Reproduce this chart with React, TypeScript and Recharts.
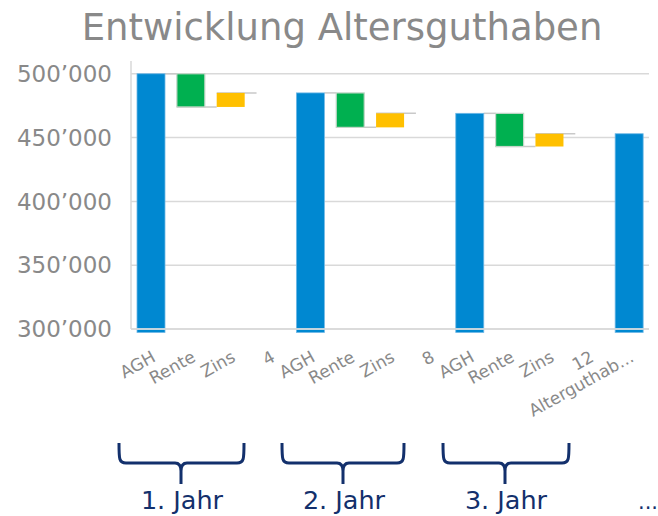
import { BarChart, Bar, XAxis, YAxis, CartesianGrid } from "recharts";

const categories = [
  "AGH", "Rente", "Zins", "4",
  "AGH", "Rente", "Zins", "8",
  "AGH", "Rente", "Zins", "12",
  "Alterguthab...",
];
const kinds = [
  "agh", "rente", "zins", "none",
  "agh", "rente", "zins", "none",
  "agh", "rente", "zins", "none",
  "total",
];
const startBalance = 500000;
const renteChanges = [-26000, -27000, -26000];
const zinsChanges = [11000, 11000, 10000];
const finalBalance = 453000;
const yTicks = [300000, 350000, 400000, 450000, 500000];
const yearLabels = ["1. Jahr", "2. Jahr", "3. Jahr"];

const AXIS_MIN = 300000;
const FONT = '"DejaVu Sans", Verdana, sans-serif';
const GRAY_TEXT = "#898989";
const GRID = "#d9d9d9";
const NAVY = "#13306c";
const COLORS: Record<string, string> = {
  agh: "#0088d1",
  total: "#0088d1",
  rente: "#00b050",
  zins: "#ffc000",
};

function buildRows() {
  let bal = startBalance;
  let year = 0;
  return categories.map((name, i) => {
    const kind = kinds[i];
    let range: [number, number] | null = null;
    if (kind === "agh") range = [AXIS_MIN, bal];
    else if (kind === "rente") {
      const next = bal + renteChanges[year];
      range = [next, bal];
      bal = next;
    } else if (kind === "zins") {
      const next = bal + zinsChanges[year];
      range = [bal, next];
      bal = next;
      year++;
    } else if (kind === "total") range = [AXIS_MIN, finalBalance];
    return { name, kind, range };
  });
}

const rows = buildRows();

const fmt = (v: number) => String(v).replace(/\B(?=(\d{3})+(?!\d))/g, "\u2019");

// gap between neighbouring bars (band width minus bar width)
const BAR = 28;
const GAP = 518 / 13 - BAR;

function StepBar(props: any) {
  const { x, y, width, height, payload } = props;
  if (!payload || !payload.range) return <g />;
  const top = Math.min(y, y + height);
  const h = Math.abs(height);
  const bottom = top + h;
  const fill = COLORS[payload.kind];
  const kind = payload.kind;
  let connector = null;
  if (kind === "agh") {
    connector = <line x1={x + width} x2={x + width + GAP} y1={top} y2={top} stroke="#c9c9c9" strokeWidth={1.5} />;
  } else if (kind === "rente") {
    connector = <line x1={x} x2={x + width + GAP} y1={bottom} y2={bottom} stroke="#c9c9c9" strokeWidth={1.5} />;
  } else if (kind === "zins") {
    connector = <line x1={x} x2={x + width + GAP} y1={top} y2={top} stroke="#c9c9c9" strokeWidth={1.5} />;
  }
  const blue = kind === "agh" || kind === "total";
  return (
    <g>
      {connector}
      <rect
        x={x}
        y={top}
        width={width}
        height={blue ? h + 3.5 : h}
        fill={fill}
        stroke={blue ? "#6fb8e6" : kind === "rente" ? "#c5d6c9" : "none"}
        strokeWidth={blue ? 0.8 : 1.2}
      />
      {blue && <line x1={x} x2={x + width} y1={bottom} y2={bottom} stroke="#b4daf3" strokeWidth={1.5} />}
    </g>
  );
}

function Brace({ x1, x2, cx }: { x1: number; x2: number; cx: number }) {
  const top = 443;
  const mid = 463;
  const tip = 484;
  const d =
    `M ${x1} ${top} C ${x1} ${mid - 4}, ${x1} ${mid}, ${x1 + 7} ${mid} ` +
    `L ${cx - 6} ${mid} C ${cx - 2} ${mid}, ${cx} ${mid + 3}, ${cx} ${mid + 8} L ${cx} ${tip} ` +
    `M ${cx} ${mid + 8} C ${cx} ${mid + 3}, ${cx + 2} ${mid}, ${cx + 6} ${mid} ` +
    `L ${x2 - 7} ${mid} C ${x2} ${mid}, ${x2} ${mid - 4}, ${x2} ${top}`;
  return <path d={d} fill="none" stroke={NAVY} strokeWidth={3} strokeLinejoin="round" />;
}

const braces = [
  { x1: 119, x2: 244, cx: 181 },
  { x1: 282, x2: 404, cx: 343 },
  { x1: 443, x2: 569, cx: 505 },
];

export default function App() {
  return (
    <div style={{ position: "fixed", left: 0, top: 0, width: 658, height: 516, background: "#fff", fontFamily: FONT }}>
      <BarChart
        width={658}
        height={516}
        data={rows}
        margin={{ top: 61, right: 9, left: 0, bottom: 0 }}
        barSize={BAR}
      >
        <CartesianGrid vertical={false} horizontalValues={yTicks} stroke={GRID} strokeWidth={1.5} />
        <XAxis
          dataKey="name"
          interval={0}
          height={187}
          axisLine={{ stroke: GRID, strokeWidth: 1.5 }}
          tickLine={false}
          tickSize={0}
          tickMargin={21}
          angle={-29}
          tick={{ fontSize: 17, fill: GRAY_TEXT, fontFamily: FONT, textAnchor: "end" }}
        />
        <YAxis
          domain={[AXIS_MIN, 510000]}
          ticks={yTicks}
          width={131}
          axisLine={{ stroke: GRID, strokeWidth: 1.5 }}
          tickLine={false}
          tickMargin={13}
          tickFormatter={fmt}
          tick={{ fontSize: 23, fill: GRAY_TEXT, fontFamily: FONT }}
        />
        <Bar dataKey="range" isAnimationActive={false} shape={<StepBar />} />
      </BarChart>
      <svg width={658} height={516} style={{ position: "absolute", left: 0, top: 0, pointerEvents: "none" }}>
        <text x={342} y={40} textAnchor="middle" fontSize={37} fill={GRAY_TEXT} fontFamily={FONT}>
          Entwicklung Altersguthaben
        </text>
        {braces.map((b, i) => (
          <g key={i}>
            <Brace {...b} />
            <text x={b.cx + 1} y={509} textAnchor="middle" fontSize={25.5} fill={NAVY} fontFamily={FONT}>
              {yearLabels[i]}
            </text>
          </g>
        ))}
        <text x={648} y={509} textAnchor="middle" fontSize={21} fill={NAVY} fontFamily={FONT}>
          ...
        </text>
      </svg>
    </div>
  );
}
